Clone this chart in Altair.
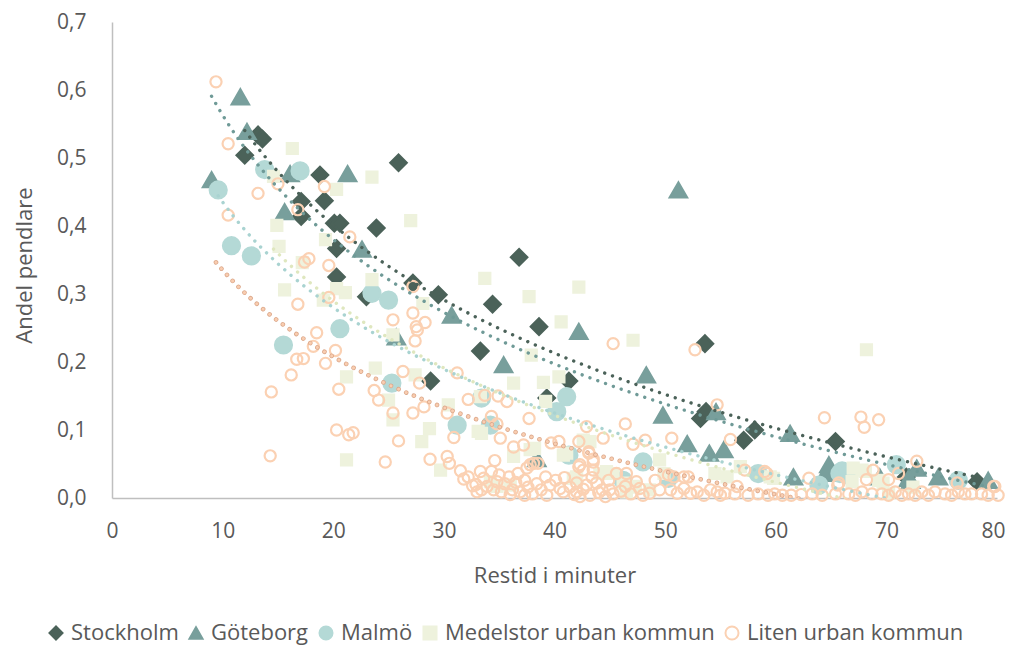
import altair as alt
import pandas as pd

# ---------------- data ----------------
series_names = ["Stockholm", "Göteborg", "Malmö", "Medelstor urban kommun", "Liten urban kommun"]

sto_x = [12.0, 13.2, 13.6, 17.1, 17.1, 18.8, 19.2, 20.1, 20.6, 20.3, 20.3, 23.0, 23.9, 25.9, 27.2,
         28.8, 29.5, 33.3, 34.4, 36.8, 38.6, 39.3, 41.3, 53.2, 53.6, 53.7, 57.1, 58.1, 65.4, 71.8, 78.2]
sto_y = [0.504, 0.534, 0.528, 0.436, 0.414, 0.475, 0.437, 0.404, 0.404, 0.367, 0.325, 0.296, 0.397, 0.493, 0.316,
         0.172, 0.299, 0.216, 0.285, 0.354, 0.252, 0.147, 0.172, 0.117, 0.227, 0.127, 0.085, 0.100, 0.083, 0.031, 0.024]

gbg_x = [9.0, 11.6, 12.2, 15.6, 16.1, 21.3, 22.6, 25.7, 30.7, 35.4, 38.4, 42.2, 48.3, 49.8, 51.2, 52.0,
         54.0, 54.6, 55.3, 61.3, 61.6, 64.5, 64.8, 69.4, 72.0, 72.2, 72.75, 74.7, 79.2]
gbg_y = [0.468, 0.590, 0.539, 0.421, 0.477, 0.477, 0.366, 0.237, 0.269, 0.196, 0.058, 0.245, 0.181, 0.122, 0.453, 0.080,
         0.066, 0.127, 0.071, 0.095, 0.031, 0.036, 0.049, 0.031, 0.029, 0.026, 0.044, 0.031, 0.026]

mal_x = [9.6, 10.8, 12.6, 13.8, 15.5, 17.0, 20.6, 23.5, 25.0, 25.3, 31.2, 33.4, 34.2, 40.2, 41.1, 41.3,
         46.2, 48.0, 50.3, 58.4, 63.9, 65.8, 66.0, 66.5, 70.9, 76.5]
mal_y = [0.453, 0.371, 0.356, 0.483, 0.225, 0.481, 0.249, 0.301, 0.291, 0.169, 0.107, 0.147, 0.107, 0.127, 0.149, 0.063,
         0.026, 0.053, 0.029, 0.036, 0.019, 0.036, 0.040, 0.034, 0.049, 0.026]

med_x = [14.6, 14.9, 15.1, 15.6, 16.3, 17.2, 19.1, 19.3, 20.3, 20.3, 21.1, 21.2, 21.2, 23.5, 23.5, 23.8,
         25.0, 25.4, 25.4, 27.0, 27.4, 28.0, 28.1, 28.7, 29.7, 30.4, 33.1, 33.3, 33.4, 33.7, 34.2, 34.8,
         36.0, 36.3, 36.3, 37.7, 37.8, 37.9, 38.2, 39.0, 39.2, 40.4, 40.6, 40.8, 41.1, 41.7, 42.0, 42.2,
         42.6, 43.2, 44.1, 44.7, 44.9, 45.3, 46.2, 46.5, 47.1, 47.1, 47.3, 48.6, 49.5, 49.9, 54.5, 55.6,
         56.8, 59.5, 59.8, 66.9, 67.0, 67.8, 68.1, 68.2, 69.3, 69.7, 70.2, 72.4]
med_y = [0.473, 0.401, 0.370, 0.306, 0.514, 0.346, 0.291, 0.380, 0.454, 0.308, 0.302, 0.178, 0.056, 0.472, 0.321, 0.191,
         0.144, 0.240, 0.115, 0.408, 0.181, 0.083, 0.286, 0.102, 0.041, 0.137, 0.098, 0.149, 0.095, 0.323, 0.024, 0.017,
         0.019, 0.169, 0.061, 0.296, 0.071, 0.210, 0.073, 0.170, 0.142, 0.178, 0.259, 0.063, 0.066, 0.029, 0.031, 0.310,
         0.085, 0.083, 0.036, 0.039, 0.036, 0.036, 0.022, 0.009, 0.232, 0.016, 0.017, 0.012, 0.056, 0.036, 0.036, 0.031,
         0.046, 0.031, 0.029, 0.024, 0.044, 0.041, 0.039, 0.218, 0.026, 0.022, 0.007, 0.016]

lit_x = [9.4, 10.5, 10.5, 13.2, 15.0, 16.8, 19.2, 21.5, 17.4, 17.8, 19.6, 19.6, 16.8, 18.5, 18.2, 20.2,
         16.7, 17.3, 19.3, 16.2, 14.4, 20.5, 23.7, 14.3, 27.2, 25.4, 28.3, 27.5, 27.6, 27.4, 27.2, 26.3,
         27.8, 28.2, 27.2, 30.3, 24.1, 25.4, 20.3, 21.4, 21.8, 25.9, 24.7, 28.75, 30.3, 30.5, 31.2, 32.2,
         34.9, 35.7, 34.3, 34.8, 33.7, 37.7, 42.9, 45.3, 46.4, 44.4, 48.2, 50.6, 52.7, 35.1, 36.3, 37.2,
         39.7, 40.4, 42.2, 43.1, 43.5, 42.2, 54.7, 55.9, 47.1, 64.4, 67.7, 68.0, 69.3, 72.75, 71.1, 70.2,
         68.8, 68.2, 65.6, 59.2, 63.0, 76.4, 79.7, 30.9, 34.6, 37.8, 37.5, 38.1, 38.5, 42.3, 42.6, 43.5,
         43.5, 43.1, 32.2, 33.3, 33.6, 34.3, 34.8, 35.5, 36.5, 36.7, 37.3, 38.4, 39.2, 33.0, 33.4, 37.3,
         39.3, 40.5, 40.8, 42.0, 42.0, 42.3, 42.9, 43.2, 43.8, 44.3, 44.6, 45.0, 45.6, 46.5, 46.4, 47.7,
         48.0, 48.6, 49.1, 49.5, 50.5, 51.1, 51.7, 52.3, 52.9, 53.5, 54.1, 54.7, 50.8, 51.7, 52.1, 50.3,
         59.0, 55.0, 55.4, 56.3, 56.5, 57.2, 57.5, 58.4, 59.3, 59.9, 60.6, 61.4, 62.3, 63.3, 64.2, 65.4,
         65.7, 66.6, 67.2, 67.8, 68.7, 69.6, 70.2, 70.8, 71.4, 72.0, 72.6, 73.2, 73.8, 74.4, 75.3, 75.9,
         76.5, 77.1, 77.7, 78.6, 79.2, 79.8, 80.1,
         31.5, 31.8, 32.6, 32.9, 33.9, 34.5, 35.0, 35.2, 35.9, 36.0, 36.2, 36.9, 37.6, 38.0, 38.8, 39.6,
         40.1, 40.9, 41.4, 41.8, 42.6, 43.4, 44.0, 44.9, 45.3, 46.0, 46.9, 47.4]
lit_y = [0.612, 0.521, 0.416, 0.448, 0.462, 0.424, 0.458, 0.384, 0.347, 0.352, 0.342, 0.295, 0.285, 0.243, 0.223, 0.217,
         0.204, 0.205, 0.198, 0.181, 0.156, 0.160, 0.158, 0.062, 0.272, 0.262, 0.258, 0.252, 0.247, 0.231, 0.311, 0.186,
         0.169, 0.134, 0.125, 0.125, 0.144, 0.125, 0.100, 0.093, 0.096, 0.084, 0.053, 0.057, 0.061, 0.051, 0.184, 0.145,
         0.150, 0.142, 0.120, 0.109, 0.151, 0.117, 0.105, 0.227, 0.109, 0.088, 0.085, 0.088, 0.218, 0.088, 0.075, 0.078,
         0.081, 0.083, 0.083, 0.068, 0.057, 0.046, 0.137, 0.086, 0.079, 0.118, 0.119, 0.104, 0.115, 0.054, 0.036, 0.027,
         0.041, 0.027, 0.019, 0.036, 0.029, 0.022, 0.017, 0.089, 0.055, 0.049, 0.044, 0.051, 0.051, 0.049, 0.041, 0.053,
         0.041, 0.066, 0.031, 0.039, 0.029, 0.039, 0.024, 0.021, 0.023, 0.036, 0.026, 0.021, 0.031, 0.009, 0.012, 0.004,
         0.004, 0.014, 0.009, 0.022, 0.009, 0.002, 0.019, 0.004, 0.022, 0.012, 0.002, 0.012, 0.036, 0.036, 0.017, 0.014,
         0.004, 0.007, 0.026, 0.012, 0.012, 0.007, 0.014, 0.007, 0.009, 0.004, 0.012, 0.009, 0.031, 0.031, 0.031, 0.034,
         0.039, 0.004, 0.007, 0.006, 0.017, 0.041, 0.004, 0.006, 0.004, 0.006, 0.004, 0.004, 0.005, 0.006, 0.004, 0.006,
         0.022, 0.006, 0.004, 0.009, 0.006, 0.006, 0.004, 0.009, 0.004, 0.006, 0.004, 0.009, 0.004, 0.009, 0.006, 0.004,
         0.009, 0.006, 0.006, 0.006, 0.004, 0.017, 0.004,
         0.040, 0.028, 0.018, 0.020, 0.017, 0.012, 0.034, 0.009, 0.031, 0.005, 0.012, 0.009, 0.016, 0.006, 0.012, 0.019,
         0.026, 0.030, 0.016, 0.005, 0.013, 0.030, 0.008, 0.026, 0.006, 0.010, 0.006, 0.024]

x_ticks = [0, 10, 20, 30, 40, 50, 60, 70, 80]
y_ticks = [0.0, 0.1, 0.2, 0.3, 0.4, 0.5, 0.6, 0.7]

# ---------------- styles ----------------
fill_colors = ["#4b6259", "#789f9c", "#b4d9d6", "#eef2dd", "transparent"]
stroke_colors = ["#4b6259", "#789f9c", "#b4d9d6", "#eef2dd", "#fbd1b3"]
shapes = ["diamond", "triangle-up", "circle", "square", "circle"]
sizes = [270, 300, 290, 121, 125]
trend_colors = ["#4b6259", "#6f9a97", "#a9d3d1", "#dfe7bf", "#f9cdb0"]

FONT = "Open Sans"
GREY = "#595959"

rows = []
for name, xs, ys in zip(series_names,
                        [sto_x, gbg_x, mal_x, med_x, lit_x],
                        [sto_y, gbg_y, mal_y, med_y, lit_y]):
    for a, b in zip(xs, ys):
        rows.append({"serie": name, "x": a, "val": b})
df = pd.DataFrame(rows)

size_expr = "{}[indexof({}, datum.serie)]".format(
    "[" + ",".join(str(s) for s in sizes) + "]",
    "[" + ",".join("'" + s + "'" for s in series_names) + "]")

x_enc = alt.X("x:Q", scale=alt.Scale(domain=[0, 80], nice=False),
              axis=alt.Axis(values=x_ticks, title="Restid i minuter", labelPadding=22,
                            labelFlush=False, titleY=77, titleBaseline="middle",
                            labelOffset={"condition": {"test": "datum.value === 80", "value": -4},
                                         "value": 0}))
y_enc = alt.Y("val:Q", scale=alt.Scale(domain=[0, 0.7], nice=False),
              axis=alt.Axis(values=y_ticks, title="Andel pendlare",
                            labelExpr="replace(format(datum.value, '.1f'), '.', ',')",
                            labelFlush=False, labelPadding=26, titleX=-88, titleY=243,
                            titleAngle=270, titleAlign="center", titleBaseline="middle"))

leg = alt.Legend(title=None, orient="none", legendX=-67, legendY=600, direction="horizontal",
                 symbolSize=170, symbolStrokeWidth=2, labelFontSize=22, labelFont=FONT,
                 labelColor=GREY, labelOffset=4, columnPadding=6, labelLimit=0)

points = alt.Chart(df).transform_calculate(sz=size_expr).mark_point(strokeWidth=2.2, opacity=1).encode(
    x=x_enc,
    y=y_enc,
    fill=alt.Fill("serie:N", scale=alt.Scale(domain=series_names, range=fill_colors), legend=leg),
    stroke=alt.Stroke("serie:N", scale=alt.Scale(domain=series_names, range=stroke_colors), legend=leg),
    shape=alt.Shape("serie:N", scale=alt.Scale(domain=series_names, range=shapes), legend=leg),
    size=alt.Size("sz:Q", scale=None),
)

layers = [points]
for name, col in zip(series_names, trend_colors):
    base = alt.Chart(df).transform_filter(alt.datum.serie == name).transform_regression(
        on="x", regression="val", method="log")
    if name == "Liten urban kommun":
        layers.append(base.mark_line(clip=True, strokeDash=[0.01, 8.3], strokeCap="round",
                                     strokeWidth=4.6, color="#dca98c").encode(x="x:Q", y="val:Q"))
        layers.append(base.mark_line(clip=True, strokeDash=[0.01, 8.3], strokeCap="round",
                                     strokeWidth=3.0, color=col).encode(x="x:Q", y="val:Q"))
    else:
        layers.append(base.mark_line(clip=True, strokeDash=[0.01, 8.3], strokeCap="round",
                                     strokeWidth=3.4, color=col).encode(x="x:Q", y="val:Q"))

chart = alt.layer(*layers).properties(
    width=885, height=476,
    autosize=alt.AutoSizeParams(type="none"),
    padding={"left": 104, "top": 14, "right": 9, "bottom": 150},
).configure_view(stroke=None).configure_axis(
    labelFont=FONT, labelFontSize=21, labelColor=GREY,
    titleFont=FONT, titleFontSize=22, titleColor=GREY, titleFontWeight="normal",
    domainColor="#bfbfbf", domainWidth=1.5, ticks=False, grid=False,
)

chart.save("out.html", embed_options={"renderer": "svg", "actions": False})
